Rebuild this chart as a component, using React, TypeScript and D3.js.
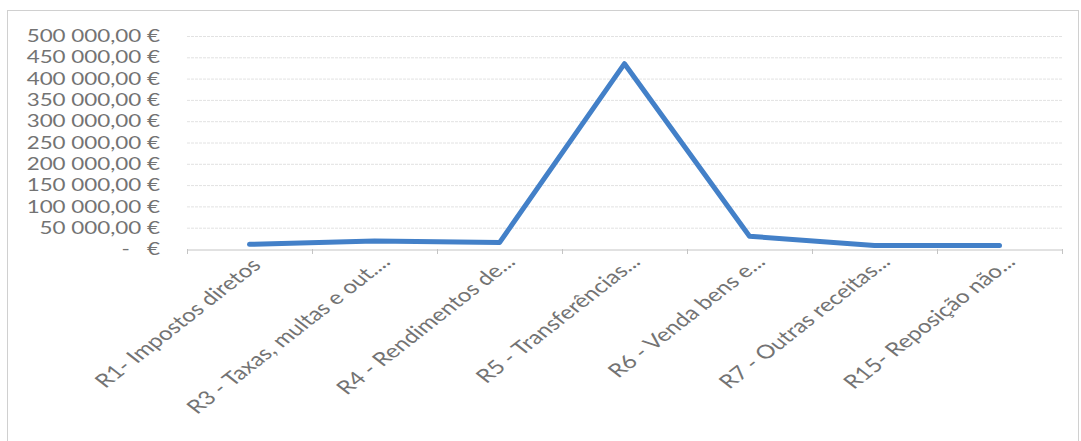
import { useEffect, useRef } from 'react'
import * as d3 from 'd3'

const categories = [
  'R1- Impostos diretos ',
  'R3 - Taxas, multas e out....',
  'R4 - Rendimentos de...',
  'R5 - Transferências...',
  'R6 - Venda bens e...',
  'R7 - Outras receitas...',
  'R15- Reposição não...',
]
const values = [11000, 19000, 15000, 435000, 30000, 8000, 8000]
const yTicks = [0, 50000, 100000, 150000, 200000, 250000, 300000, 350000, 400000, 450000, 500000]

const fmtEuro = (v: number) => {
  if (v === 0) return '-   €'
  const s = d3.format(',.2f')(v)
  return s.replace(/,/g, ' ').replace('.', ',') + ' €'
}

export default function App() {
  const ref = useRef<SVGSVGElement>(null)

  useEffect(() => {
    if (!ref.current) return
    const svg = d3.select(ref.current)
    svg.selectAll('*').remove()

    const width = 1081
    const height = 441
    const margin = { top: 36, right: 19, bottom: 192, left: 187 }
    const iw = width - margin.left - margin.right
    const ih = height - margin.top - margin.bottom
    const font = 'Lato, "Open Sans", sans-serif'
    const stretch = 1.28 // the scan is wider than tall

    svg.attr('width', width).attr('height', height)
      .style('display', 'block')

    // chart border
    svg.append('rect')
      .attr('x', 7.5).attr('y', 10.5)
      .attr('width', width - 10).attr('height', height - 4)
      .attr('fill', '#fff')
      .attr('stroke', '#d0d0d0')

    const g = svg.append('g').attr('transform', `translate(${margin.left},${margin.top})`)

    const x = d3.scaleBand().domain(categories).range([0, iw])
    const y = d3.scaleLinear().domain([0, 500000]).range([ih, 0])

    // gridlines
    g.append('g')
      .selectAll('line')
      .data(yTicks.slice(1))
      .join('line')
      .attr('x1', 0).attr('x2', iw)
      .attr('y1', d => y(d) + 0.5).attr('y2', d => y(d) + 0.5)
      .attr('stroke', '#e2e2e2')
      .attr('stroke-dasharray', '3,1')

    // y labels
    g.append('g')
      .selectAll('text')
      .data(yTicks)
      .join('text')
      .attr('transform', d => `translate(-27,${y(d)}) scale(${stretch},1)`)
      .attr('dy', '0.35em')
      .attr('text-anchor', 'end')
      .attr('font-family', font)
      .attr('font-size', '17.5px')
      .attr('fill', '#737373')
      .style('white-space', 'pre')
      .text(d => fmtEuro(d))

    // x axis
    const xa = g.append('g')
      .attr('transform', `translate(0,${ih + 0.5})`)
      .call(d3.axisBottom(x).tickSize(0).tickFormat(() => ''))
    xa.select('.domain').attr('stroke', '#c4c4c4')
    g.append('g')
      .selectAll('line')
      .data([...categories.map(c => x(c)!), iw])
      .join('line')
      .attr('x1', d => d + 0.5).attr('x2', d => d + 0.5)
      .attr('y1', ih).attr('y2', ih + 5)
      .attr('stroke', '#c4c4c4')

    // x labels
    g.append('g')
      .selectAll('text')
      .data(categories)
      .join('text')
      .attr('transform', d => `translate(${x(d)! + x.bandwidth() / 2 + 17},${ih + 14}) scale(${stretch},1) rotate(-45)`)
      .attr('text-anchor', 'end')
      .attr('font-family', font)
      .attr('font-size', '19px')
      .attr('fill', '#737373')
      .style('white-space', 'pre')
      .text(d => d)

    // line
    const line = d3.line<number>()
      .x((_, i) => x(categories[i])! + x.bandwidth() / 2)
      .y(d => y(d))

    g.append('path')
      .datum(values)
      .attr('d', line)
      .attr('fill', 'none')
      .attr('stroke', '#4380c8')
      .attr('stroke-width', 5)
      .attr('stroke-linejoin', 'round')
      .attr('stroke-linecap', 'round')
  }, [])

  return (
    <div style={{ position: 'absolute', left: 0, top: 0 }}>
      <svg ref={ref} />
    </div>
  )
}
